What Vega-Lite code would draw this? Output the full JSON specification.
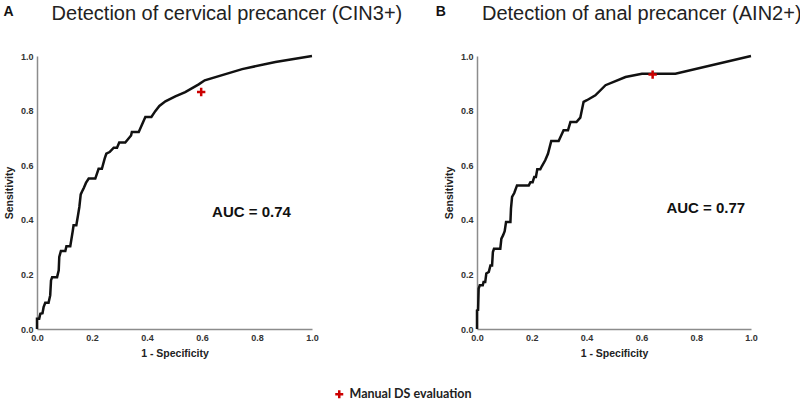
{
  "$schema": "https://vega.github.io/schema/vega-lite/v6.json",
  "padding": {"left": 3, "top": 4, "right": 0, "bottom": 0},
  "datasets": {
    "rocA": [
      {"i":0,"fpr":0,"tpr":0},{"i":1,"fpr":0,"tpr":0.038},{"i":2,"fpr":0.008,"tpr":0.038},{"i":3,"fpr":0.012,"tpr":0.056},{"i":4,"fpr":0.02,"tpr":0.058},{"i":5,"fpr":0.024,"tpr":0.08},{"i":6,"fpr":0.03,"tpr":0.096},{"i":7,"fpr":0.042,"tpr":0.096},{"i":8,"fpr":0.048,"tpr":0.123},{"i":9,"fpr":0.051,"tpr":0.178},{"i":10,"fpr":0.055,"tpr":0.19},{"i":11,"fpr":0.073,"tpr":0.19},{"i":12,"fpr":0.079,"tpr":0.215},{"i":13,"fpr":0.081,"tpr":0.264},{"i":14,"fpr":0.087,"tpr":0.286},{"i":15,"fpr":0.103,"tpr":0.286},{"i":16,"fpr":0.107,"tpr":0.303},{"i":17,"fpr":0.121,"tpr":0.303},{"i":18,"fpr":0.13,"tpr":0.359},{"i":19,"fpr":0.133,"tpr":0.38},{"i":20,"fpr":0.143,"tpr":0.38},{"i":21,"fpr":0.149,"tpr":0.416},{"i":22,"fpr":0.154,"tpr":0.447},{"i":23,"fpr":0.159,"tpr":0.493},{"i":24,"fpr":0.166,"tpr":0.508},{"i":25,"fpr":0.171,"tpr":0.518},{"i":26,"fpr":0.178,"tpr":0.535},{"i":27,"fpr":0.188,"tpr":0.551},{"i":28,"fpr":0.212,"tpr":0.551},{"i":29,"fpr":0.224,"tpr":0.587},{"i":30,"fpr":0.236,"tpr":0.587},{"i":31,"fpr":0.246,"tpr":0.624},{"i":32,"fpr":0.252,"tpr":0.642},{"i":33,"fpr":0.264,"tpr":0.648},{"i":34,"fpr":0.279,"tpr":0.664},{"i":35,"fpr":0.291,"tpr":0.664},{"i":36,"fpr":0.299,"tpr":0.683},{"i":37,"fpr":0.321,"tpr":0.683},{"i":38,"fpr":0.342,"tpr":0.709},{"i":39,"fpr":0.345,"tpr":0.722},{"i":40,"fpr":0.37,"tpr":0.722},{"i":41,"fpr":0.394,"tpr":0.777},{"i":42,"fpr":0.416,"tpr":0.777},{"i":43,"fpr":0.43,"tpr":0.798},{"i":44,"fpr":0.445,"tpr":0.817},{"i":45,"fpr":0.467,"tpr":0.834},{"i":46,"fpr":0.503,"tpr":0.852},{"i":47,"fpr":0.539,"tpr":0.868},{"i":48,"fpr":0.588,"tpr":0.896},{"i":49,"fpr":0.61,"tpr":0.911},{"i":50,"fpr":0.746,"tpr":0.952},{"i":51,"fpr":0.867,"tpr":0.978},{"i":52,"fpr":1,"tpr":1}
    ],
    "rocB": [
      {"i":0,"fpr":0,"tpr":0},{"i":1,"fpr":0,"tpr":0.068},{"i":2,"fpr":0.004,"tpr":0.07},{"i":3,"fpr":0.006,"tpr":0.148},{"i":4,"fpr":0.01,"tpr":0.16},{"i":5,"fpr":0.021,"tpr":0.16},{"i":6,"fpr":0.024,"tpr":0.172},{"i":7,"fpr":0.03,"tpr":0.172},{"i":8,"fpr":0.034,"tpr":0.203},{"i":9,"fpr":0.043,"tpr":0.209},{"i":10,"fpr":0.049,"tpr":0.233},{"i":11,"fpr":0.055,"tpr":0.233},{"i":12,"fpr":0.058,"tpr":0.282},{"i":13,"fpr":0.062,"tpr":0.294},{"i":14,"fpr":0.085,"tpr":0.294},{"i":15,"fpr":0.089,"tpr":0.331},{"i":16,"fpr":0.095,"tpr":0.343},{"i":17,"fpr":0.101,"tpr":0.358},{"i":18,"fpr":0.106,"tpr":0.392},{"i":19,"fpr":0.122,"tpr":0.392},{"i":20,"fpr":0.124,"tpr":0.441},{"i":21,"fpr":0.128,"tpr":0.484},{"i":22,"fpr":0.136,"tpr":0.498},{"i":23,"fpr":0.146,"tpr":0.526},{"i":24,"fpr":0.189,"tpr":0.526},{"i":25,"fpr":0.195,"tpr":0.538},{"i":26,"fpr":0.203,"tpr":0.538},{"i":27,"fpr":0.209,"tpr":0.557},{"i":28,"fpr":0.215,"tpr":0.557},{"i":29,"fpr":0.22,"tpr":0.585},{"i":30,"fpr":0.231,"tpr":0.585},{"i":31,"fpr":0.237,"tpr":0.597},{"i":32,"fpr":0.249,"tpr":0.618},{"i":33,"fpr":0.259,"tpr":0.642},{"i":34,"fpr":0.271,"tpr":0.689},{"i":35,"fpr":0.298,"tpr":0.689},{"i":36,"fpr":0.316,"tpr":0.728},{"i":37,"fpr":0.332,"tpr":0.728},{"i":38,"fpr":0.341,"tpr":0.758},{"i":39,"fpr":0.363,"tpr":0.758},{"i":40,"fpr":0.377,"tpr":0.774},{"i":41,"fpr":0.389,"tpr":0.832},{"i":42,"fpr":0.401,"tpr":0.838},{"i":43,"fpr":0.432,"tpr":0.856},{"i":44,"fpr":0.469,"tpr":0.893},{"i":45,"fpr":0.542,"tpr":0.923},{"i":46,"fpr":0.602,"tpr":0.935},{"i":47,"fpr":0.724,"tpr":0.935},{"i":48,"fpr":1,"tpr":1}
    ],
    "markA": [{"fpr":0.597,"tpr":0.868,"label":"Manual DS evaluation"}],
    "markB": [{"fpr":0.641,"tpr":0.932,"label":"Manual DS evaluation"}],
    "aucA": [{"fpr":0.78,"tpr":0.43,"t":"AUC = 0.74"}],
    "aucB": [{"fpr":0.835,"tpr":0.443,"t":"AUC = 0.77"}],
    "headA": [{"letter":"A","title":"Detection of cervical precancer (CIN3+)"}],
    "headB": [{"letter":"B","title":"Detection of anal precancer (AIN2+)"}]
  },
  "spacing": 165,
  "bounds": "flush",
  "hconcat": [
    {
      "width": 275,
      "height": 273,
      "layer": [
        {
          "data": {"name": "rocA"},
          "mark": {"type": "line", "color": "#111", "strokeWidth": 2.5},
          "encoding": {
            "x": {"field": "fpr", "type": "quantitative", "scale": {"domain": [0, 1]}, "axis": {"title": "1 - Specificity", "values": [0, 0.2, 0.4, 0.6, 0.8, 1], "format": ".1f"}},
            "y": {"field": "tpr", "type": "quantitative", "scale": {"domain": [0, 1]}, "axis": {"title": "Sensitivity", "values": [0, 0.2, 0.4, 0.6, 0.8, 1], "format": ".1f"}},
            "order": {"field": "i"}
          }
        },
        {
          "data": {"name": "markA"},
          "mark": {"type": "point", "shape": "M-1,0L1,0M0,-1L0,1", "filled": false, "strokeWidth": 2.5, "size": 70, "opacity": 1},
          "encoding": {
            "x": {"field": "fpr", "type": "quantitative"},
            "y": {"field": "tpr", "type": "quantitative"},
            "color": {"field": "label", "type": "nominal", "scale": {"range": ["#cc0000"]}, "legend": {"title": null}}
          }
        },
        {
          "data": {"name": "aucA"},
          "mark": {"type": "text", "fontSize": 15, "fontWeight": "bold", "font": "Liberation Sans", "color": "#111"},
          "encoding": {
            "x": {"field": "fpr", "type": "quantitative"},
            "y": {"field": "tpr", "type": "quantitative"},
            "text": {"field": "t"}
          }
        },
        {
          "data": {"name": "headA"},
          "mark": {"type": "text", "fontSize": 14, "fontWeight": "bold", "font": "Liberation Sans", "color": "#111"},
          "encoding": {
            "x": {"datum": -0.103},
            "y": {"datum": 1.16},
            "text": {"field": "letter"}
          }
        },
        {
          "data": {"name": "headA"},
          "mark": {"type": "text", "fontSize": 20, "font": "Liberation Sans", "color": "#222", "align": "left"},
          "encoding": {
            "x": {"datum": 0.053},
            "y": {"datum": 1.153},
            "text": {"field": "title"}
          }
        }
      ]
    },
    {
      "width": 274,
      "height": 273,
      "layer": [
        {
          "data": {"name": "rocB"},
          "mark": {"type": "line", "color": "#111", "strokeWidth": 2.5},
          "encoding": {
            "x": {"field": "fpr", "type": "quantitative", "scale": {"domain": [0, 1]}, "axis": {"title": "1 - Specificity", "values": [0, 0.2, 0.4, 0.6, 0.8, 1], "format": ".1f"}},
            "y": {"field": "tpr", "type": "quantitative", "scale": {"domain": [0, 1]}, "axis": {"title": "Sensitivity", "values": [0, 0.2, 0.4, 0.6, 0.8, 1], "format": ".1f"}},
            "order": {"field": "i"}
          }
        },
        {
          "data": {"name": "markB"},
          "mark": {"type": "point", "shape": "M-1,0L1,0M0,-1L0,1", "filled": false, "strokeWidth": 2.5, "size": 70, "opacity": 1},
          "encoding": {
            "x": {"field": "fpr", "type": "quantitative"},
            "y": {"field": "tpr", "type": "quantitative"},
            "color": {"field": "label", "type": "nominal", "scale": {"range": ["#cc0000"]}, "legend": {"title": null}}
          }
        },
        {
          "data": {"name": "aucB"},
          "mark": {"type": "text", "fontSize": 15, "fontWeight": "bold", "font": "Liberation Sans", "color": "#111"},
          "encoding": {
            "x": {"field": "fpr", "type": "quantitative"},
            "y": {"field": "tpr", "type": "quantitative"},
            "text": {"field": "t"}
          }
        },
        {
          "data": {"name": "headB"},
          "mark": {"type": "text", "fontSize": 14, "fontWeight": "bold", "font": "Liberation Sans", "color": "#111"},
          "encoding": {
            "x": {"datum": -0.132},
            "y": {"datum": 1.16},
            "text": {"field": "letter"}
          }
        },
        {
          "data": {"name": "headB"},
          "mark": {"type": "text", "fontSize": 20, "font": "Liberation Sans", "color": "#222", "align": "left"},
          "encoding": {
            "x": {"datum": 0.018},
            "y": {"datum": 1.153},
            "text": {"field": "title"}
          }
        }
      ]
    }
  ],
  "config": {
    "view": {"stroke": null},
    "axis": {
      "grid": false,
      "ticks": false,
      "tickSize": 0,
      "domainColor": "#8c8c8c",
      "domainWidth": 1.5,
      "labelFlush": false,
      "labelFont": "Liberation Sans",
      "labelFontWeight": "bold",
      "labelFontSize": 9,
      "labelColor": "#333",
      "labelPadding": 4,
      "titleFont": "Liberation Sans",
      "titleFontWeight": "bold",
      "titleFontSize": 10.5,
      "titleColor": "#222",
      "titlePadding": 6
    },
    "legend": {
      "orient": "bottom",
      "offset": 29,
      "layout": {"bottom": {"anchor": "middle"}},
      "symbolType": "M-1,0L1,0M0,-1L0,1",
      "symbolStrokeWidth": 2.5,
      "symbolSize": 64,
      "labelFont": "Lato",
      "labelFontWeight": "bold",
      "labelFontSize": 12.5,
      "labelColor": "#222"
    }
  }
}
